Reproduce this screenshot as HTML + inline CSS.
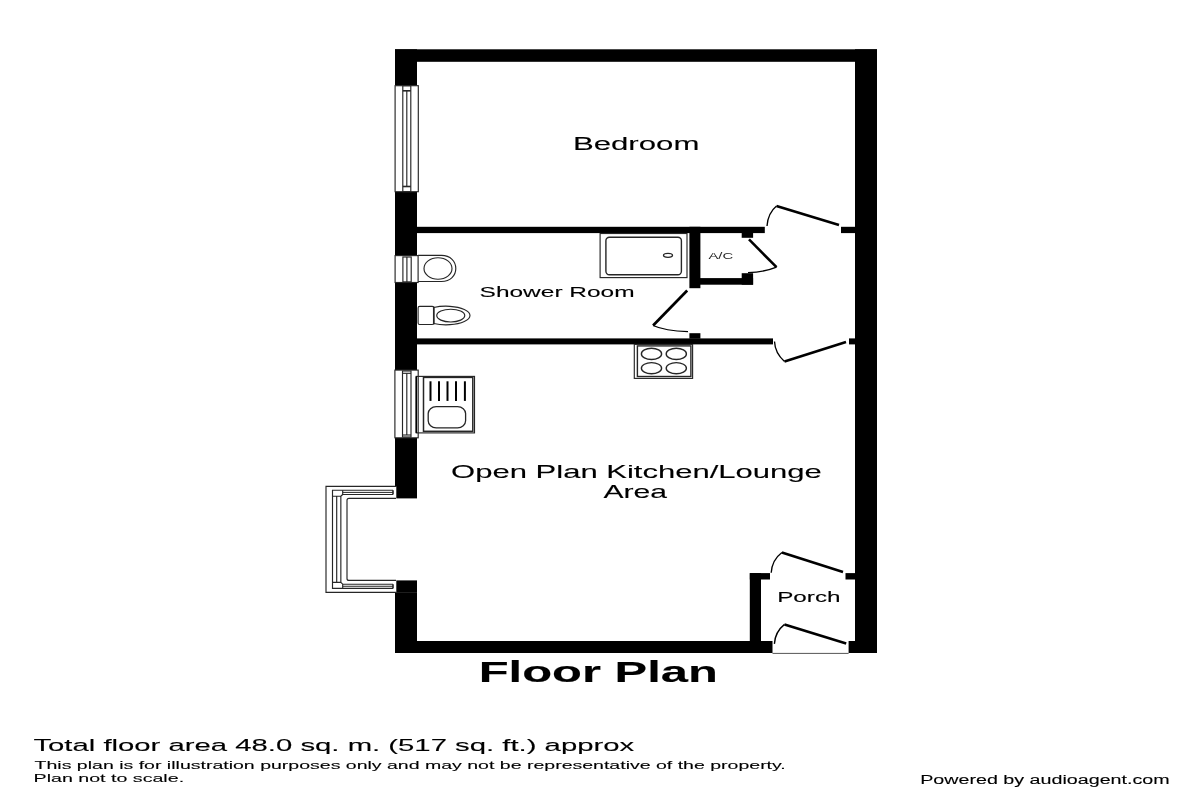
<!DOCTYPE html>
<html><head><meta charset="utf-8">
<style>
html,body{margin:0;padding:0;background:#fff;width:1200px;height:800px;overflow:hidden}
svg{display:block;will-change:transform}
text{font-family:"Liberation Sans",sans-serif;fill:#000;stroke:#000;stroke-width:0.1px}
</style></head>
<body>
<svg width="1200" height="800" viewBox="0 0 1200 800">
<rect x="0" y="0" width="1200" height="800" fill="#fff"/>
<!-- outer walls -->
<g fill="#000">
<rect x="395" y="49.3" width="482" height="12.5"/>
<rect x="855" y="49.3" width="22" height="603.7"/>
<rect x="395" y="641" width="377.5" height="12"/>
<rect x="848.6" y="641" width="28.4" height="12"/>
<rect x="395" y="49.3" width="22" height="36.2"/>
<rect x="395" y="192" width="22" height="63.6"/>
<rect x="395" y="282.5" width="22" height="87.5"/>
<rect x="395" y="438" width="22" height="48.5"/>
<rect x="396.3" y="486" width="20.7" height="12.4"/>
<rect x="396.3" y="580.4" width="20.7" height="12.2"/>
<rect x="395" y="592.3" width="22" height="60.7"/>
<!-- bedroom/shower wall -->
<rect x="417" y="226.8" width="347.8" height="6.3"/>
<rect x="841" y="226.8" width="14" height="6.3"/>
<!-- A/C -->
<rect x="689.4" y="226.8" width="11" height="61.4"/>
<rect x="700" y="278.1" width="53.1" height="6.6"/>
<rect x="741.7" y="233" width="11.4" height="4.8"/>
<rect x="741.7" y="273.2" width="11.4" height="11.5"/>
<rect x="689.4" y="333.2" width="11" height="5.5"/>
<!-- shower/kitchen wall -->
<rect x="417" y="338.4" width="356" height="6"/>
<rect x="849" y="338.4" width="6" height="6"/>
<!-- porch -->
<rect x="749.8" y="573.1" width="11.2" height="70"/>
<rect x="749.8" y="573.1" width="20.2" height="6.4"/>
<rect x="845.5" y="573.1" width="9.5" height="6.4"/>
</g>

<!-- windows & fixtures -->
<g fill="none" stroke="#262626" stroke-width="1.15">
<!-- bedroom window -->
<rect x="395.1" y="85.7" width="23.2" height="106"/>
<rect x="402.8" y="85.7" width="8" height="106"/>
<line x1="406.8" y1="90.8" x2="406.8" y2="186.5"/>
<line x1="402.8" y1="90.8" x2="410.8" y2="90.8" stroke-width="1.6"/>
<line x1="402.8" y1="186.5" x2="410.8" y2="186.5" stroke-width="1.6"/>
<!-- shower window -->
<rect x="395.1" y="255.6" width="23" height="26.9"/>
<rect x="402.9" y="257" width="8.3" height="24.9"/>
<line x1="406.9" y1="257" x2="406.9" y2="281.9"/>
<!-- basin -->
<path d="M418.1 255.4 H441.5 C450.5 255.4 455.8 261.5 455.8 268.45 C455.8 275.4 450.5 281.5 441.5 281.5 H418.1"/>
<ellipse cx="438" cy="268.5" rx="14" ry="10.75"/>
<!-- toilet -->
<rect x="418.1" y="306.4" width="15.65" height="18.1" rx="1.5"/>
<path d="M433.75 307.5 A24 9.3 0 1 1 433.75 323.5" />
<line x1="433.75" y1="306.6" x2="433.75" y2="324.4" stroke-width="1.6"/>
<ellipse cx="450.75" cy="315.6" rx="14" ry="6.4"/>
<!-- shower tray -->
<rect x="600.1" y="233.5" width="86.9" height="44.1"/>
<rect x="605.9" y="237.3" width="75.5" height="37.5" rx="3.5" stroke-width="1.4"/>
<ellipse cx="668" cy="255.3" rx="4.5" ry="2" stroke-width="1.3"/>
<!-- hob -->
<rect x="634.3" y="344.4" width="58.3" height="34"/>
<rect x="637.4" y="345.9" width="53.5" height="30.6" stroke-width="1.4"/>
<g stroke-width="1.4"><ellipse cx="651.5" cy="353.9" rx="10.1" ry="5.6"/>
<ellipse cx="676.3" cy="353.9" rx="10.1" ry="5.6"/>
<ellipse cx="651.5" cy="368.2" rx="10.1" ry="5.6"/>
<ellipse cx="676.3" cy="368.2" rx="10.1" ry="5.6"/></g>
<!-- kitchen window -->
<rect x="394.9" y="370.1" width="23.3" height="67.7"/>
<rect x="402.5" y="371" width="8.5" height="66"/>
<line x1="406.8" y1="373.3" x2="406.8" y2="435"/>
<line x1="402.5" y1="373.3" x2="411" y2="373.3"/>
<line x1="402.5" y1="435" x2="411" y2="435"/>
<!-- sink -->
<rect x="416.3" y="376.4" width="58.2" height="56.5"/>
<line x1="416.3" y1="376.4" x2="416.3" y2="432.9" stroke-width="1.6" stroke="#000"/>
<rect x="423.5" y="377.4" width="49.3" height="53.9" stroke-width="1.5"/>
<rect x="428.2" y="406.6" width="37.4" height="21.2" rx="8" ry="7" stroke-width="1.3"/>
<!-- bay window -->
<path d="M396 486.3 H326 V592.3 H396"/>
<path d="M396 498.4 H349 Q347 498.4 347 500.4 V578.4 Q347 580.4 349 580.4 H396"/>
<path d="M393 490.2 H332.5 V588.4 H393"/>
<path d="M393 494.5 H342.7 V490.2 M342.7 494.5 L340.85 496.25 H332.5 M336.7 496.25 V582.4 M340.85 496.25 V582.4 M332.5 582.4 H340.85 L342.7 584.2 V588.4 M342.7 584.2 H393"/>
<path d="M342.7 492.4 H393 M342.7 586.25 H393" stroke-width="1"/>
<path d="M393 490.2 V494.5 M393 584.2 V588.4" stroke-width="1.6"/>
<!-- porch threshold -->
<line x1="772.5" y1="653.4" x2="848.6" y2="653.4" stroke="#555" stroke-width="1"/>
</g>
<g stroke="#000" stroke-width="2">
<line x1="430.5" y1="381.3" x2="430.5" y2="400.9"/>
<line x1="439" y1="381.3" x2="439" y2="400.9"/>
<line x1="447.5" y1="381.3" x2="447.5" y2="400.9"/>
<line x1="456" y1="381.3" x2="456" y2="400.9"/>
<line x1="464.9" y1="381.3" x2="464.9" y2="400.9"/>
</g>

<!-- doors -->
<g fill="none" stroke="#000">
<!-- bedroom door -->
<line x1="839" y1="225" x2="776.5" y2="206" stroke-width="2.6"/>
<path d="M776.5 206 Q768 213 767 226" stroke-width="1.35"/>
<!-- A/C door -->
<line x1="749" y1="239.4" x2="776.5" y2="267.2" stroke-width="2.6"/>
<path d="M776.5 267.2 Q765 272 748 272.7" stroke-width="1.35"/>
<!-- shower door -->
<line x1="687.2" y1="290.5" x2="653.1" y2="325.5" stroke-width="2.7"/>
<path d="M653.1 325.5 Q665 331 688 331.6" stroke-width="1.35"/>
<!-- kitchen door -->
<line x1="846" y1="342" x2="784.5" y2="361.5" stroke-width="2.6"/>
<path d="M784.5 361.5 Q775 353 774.5 341.5" stroke-width="1.35"/>
<!-- porch inner door -->
<line x1="843" y1="572" x2="781.9" y2="552.5" stroke-width="2.6"/>
<path d="M781.9 552.5 Q772 560 771.2 572.8" stroke-width="1.35"/>
<!-- front door -->
<line x1="846.2" y1="643.4" x2="784.5" y2="624.4" stroke-width="2.6"/>
<path d="M784.5 624.4 Q775 632 774.4 643.9" stroke-width="1.35"/>
</g>

<!-- labels -->
<text x="572.9" y="150.4" font-size="18.3" textLength="126.5" lengthAdjust="spacingAndGlyphs">Bedroom</text>
<text x="479.6" y="296.9" font-size="15.2" textLength="155.0" lengthAdjust="spacingAndGlyphs">Shower Room</text>
<text x="708.4" y="258.6" font-size="8.5" style="fill:#222;stroke:none" textLength="24.7" lengthAdjust="spacingAndGlyphs">A/C</text>
<text x="451.1" y="477.5" font-size="18.5" textLength="370.8" lengthAdjust="spacingAndGlyphs">Open Plan Kitchen/Lounge</text>
<text x="603.4" y="497.6" font-size="18.5" textLength="63.6" lengthAdjust="spacingAndGlyphs">Area</text>
<text x="777.2" y="602" font-size="14.3" textLength="63.4" lengthAdjust="spacingAndGlyphs">Porch</text>
<text x="478.7" y="682.3" font-size="29" font-weight="bold" textLength="239.2" lengthAdjust="spacingAndGlyphs">Floor Plan</text>
<text x="33.4" y="750.5" font-size="15.9" textLength="600.8" lengthAdjust="spacingAndGlyphs">Total floor area 48.0 sq. m. (517 sq. ft.) approx</text>
<text x="34.6" y="769.2" font-size="11.2" textLength="751.2" lengthAdjust="spacingAndGlyphs">This plan is for illustration purposes only and may not be representative of the property.</text>
<text x="33.6" y="782.1" font-size="11.2" textLength="150.5" lengthAdjust="spacingAndGlyphs">Plan not to scale.</text>
<text x="920.2" y="784" font-size="12.3" textLength="249.5" lengthAdjust="spacingAndGlyphs">Powered by audioagent.com</text>
</svg>
</body></html>
